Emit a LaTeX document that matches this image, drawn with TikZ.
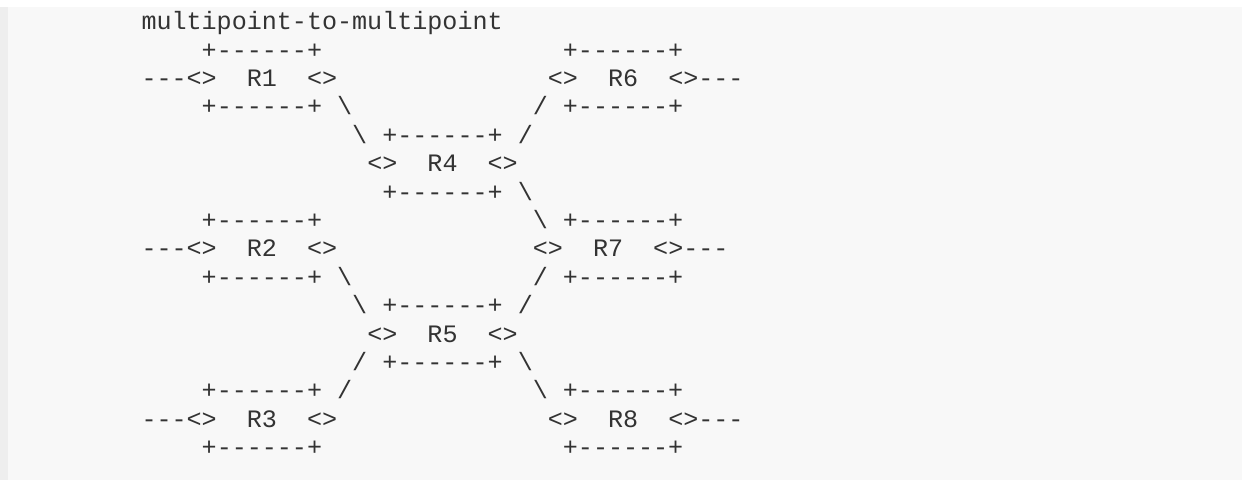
\documentclass[tikz,border=0pt]{standalone}
\usepackage{fontspec}
\setmonofont{Liberation Mono}
\definecolor{bgc}{HTML}{F8F8F8}
\definecolor{stripec}{HTML}{EEEEEE}
\definecolor{txt}{HTML}{333333}
\newcommand\seg[4]{\node[t] (#1) at ({141.5+15.05*#2},{29.7+28.4*(#3-1)}) {#4};}
\newcommand\bs{\textbackslash}
\begin{document}
\begin{tikzpicture}[x=1pt,y=-1pt,
  t/.style={anchor=base west,inner sep=0pt,outer sep=0pt,text=txt,
    font=\ttfamily\fontsize{25.08}{30}\selectfont}]
\useasboundingbox (0,0) rectangle (1242,483);
\fill[white] (0,0) rectangle (1242,483);
\fill[bgc] (0,7) rectangle (1242,480);
\fill[stripec] (0,7) rectangle (8,480);
% line 1
\seg{title}{0}{1}{multipoint-to-multipoint}
% line 2
\seg{b1t}{4}{2}{+------+}
\seg{b6t}{28}{2}{+------+}
% line 3
\seg{r1l}{0}{3}{---<>}
\seg{r1}{7}{3}{R1}
\seg{r1r}{11}{3}{<>}
\seg{r6l}{27}{3}{<>}
\seg{r6}{31}{3}{R6}
\seg{r6r}{35}{3}{<>---}
% line 4
\seg{b1b}{4}{4}{+------+}
\seg{d1a}{13}{4}{\bs}
\seg{d6a}{26}{4}{/}
\seg{b6b}{28}{4}{+------+}
% line 5
\seg{d1b}{14}{5}{\bs}
\seg{b4t}{16}{5}{+------+}
\seg{d6b}{25}{5}{/}
% line 6
\seg{r4l}{15}{6}{<>}
\seg{r4}{19}{6}{R4}
\seg{r4r}{23}{6}{<>}
% line 7
\seg{b4b}{16}{7}{+------+}
\seg{d7a}{25}{7}{\bs}
% line 8
\seg{b2t}{4}{8}{+------+}
\seg{d7b}{26}{8}{\bs}
\seg{b7t}{28}{8}{+------+}
% line 9
\seg{r2l}{0}{9}{---<>}
\seg{r2}{7}{9}{R2}
\seg{r2r}{11}{9}{<>}
\seg{r7l}{26}{9}{<>}
\seg{r7}{30}{9}{R7}
\seg{r7r}{34}{9}{<>---}
% line 10
\seg{b2b}{4}{10}{+------+}
\seg{d2a}{13}{10}{\bs}
\seg{d7c}{26}{10}{/}
\seg{b7b}{28}{10}{+------+}
% line 11
\seg{d2b}{14}{11}{\bs}
\seg{b5t}{16}{11}{+------+}
\seg{d7d}{25}{11}{/}
% line 12
\seg{r5l}{15}{12}{<>}
\seg{r5}{19}{12}{R5}
\seg{r5r}{23}{12}{<>}
% line 13
\seg{d3a}{14}{13}{/}
\seg{b5b}{16}{13}{+------+}
\seg{d8a}{25}{13}{\bs}
% line 14
\seg{b3t}{4}{14}{+------+}
\seg{d3b}{13}{14}{/}
\seg{d8b}{26}{14}{\bs}
\seg{b8t}{28}{14}{+------+}
% line 15
\seg{r3l}{0}{15}{---<>}
\seg{r3}{7}{15}{R3}
\seg{r3r}{11}{15}{<>}
\seg{r8l}{27}{15}{<>}
\seg{r8}{31}{15}{R8}
\seg{r8r}{35}{15}{<>---}
% line 16
\seg{b3b}{4}{16}{+------+}
\seg{b8b}{28}{16}{+------+}
\end{tikzpicture}
\end{document}
